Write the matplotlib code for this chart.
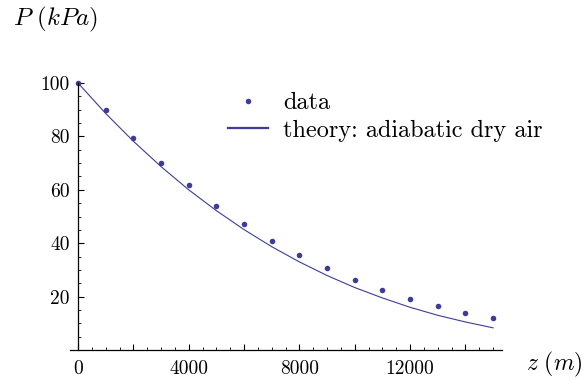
import matplotlib
matplotlib.use("Agg")
import matplotlib.pyplot as plt
from matplotlib.lines import Line2D
from matplotlib.ticker import MultipleLocator, FixedLocator

z_data = [0, 1000, 2000, 3000, 4000, 5000, 6000, 7000,
          8000, 9000, 10000, 11000, 12000, 13000, 14000, 15000]
p_data = [100.0, 89.8, 79.4, 70.0, 61.7, 54.0, 47.2, 41.0,
          35.6, 30.7, 26.3, 22.6, 19.2, 16.4, 14.0, 12.0]

# Theory curve (adiabatic dry air)
z_theory = [0, 1000, 2000, 3000, 4000, 5000, 6000, 7000,
            8000, 9000, 10000, 11000, 12000, 13000, 14000, 15000]
p_theory = [100.0, 88.6, 78.2, 68.7, 60.0, 52.2, 45.1, 38.7,
            33.0, 27.9, 23.4, 19.5, 16.0, 13.0, 10.5, 8.3]

x_labels = [0, 4000, 8000, 12000]
y_labels = [20, 40, 60, 80, 100]

blue = "#3d3d99"
plt.rcParams["font.family"] = "cmr10"
plt.rcParams["mathtext.fontset"] = "cm"
plt.rcParams["axes.unicode_minus"] = False

fig = plt.figure(figsize=(5.84, 3.81), dpi=100)
ax = fig.add_axes([69.5 / 584, 31 / 381, 432 / 584, 267 / 381])

ax.plot(z_theory, p_theory, color=blue, lw=0.8)
ax.plot(z_data, p_data, "o", color=blue, ms=4.0, mec="none", clip_on=False)

ax.set_xlim(-307, 15305)
ax.set_ylim(0, 100)

# axes through the origin, Mathematica-like
for s in ["top", "right"]:
    ax.spines[s].set_visible(False)
ax.spines["left"].set_position(("data", 0))
ax.spines["bottom"].set_position(("data", 0))
for s in ["left", "bottom"]:
    ax.spines[s].set_linewidth(0.9)

ax.xaxis.set_major_locator(FixedLocator([2000 * i for i in range(8)]))
ax.xaxis.set_minor_locator(MultipleLocator(500))
ax.set_xticklabels([str(v) if v in x_labels else "" for v in range(0, 16000, 2000)])
ax.yaxis.set_major_locator(FixedLocator(y_labels))
ax.yaxis.set_minor_locator(MultipleLocator(5))
ax.set_yticklabels([str(v) for v in y_labels])

ax.tick_params(which="major", direction="in", length=4.5, width=0.8,
               labelsize=14, colors="black")
ax.tick_params(which="minor", direction="in", length=2.5, width=0.6)
ax.tick_params(axis="x", pad=7)
ax.tick_params(axis="y", pad=6)

fig.text(13 / 584, 1 - 19 / 381, r"$P\ (kPa)$", fontsize=18, va="center", ha="left")
fig.text(583 / 584, 1 - 364 / 381, r"$z\ (m)$", fontsize=17, va="center", ha="right")

handles = [Line2D([], [], ls="none", marker="o", color=blue, ms=4.0, mec="none"),
           Line2D([], [], color=blue, lw=1.6)]
fig.legend(handles, ["data", "theory: adiabatic dry air"],
           loc="upper left", bbox_to_anchor=(228 / 584, 1 - 92 / 381),
           frameon=False, fontsize=17.5, handlelength=1.65, handletextpad=0.62,
           labelspacing=0.23, borderpad=0, borderaxespad=0)

fig.savefig("out.png", dpi=100)
